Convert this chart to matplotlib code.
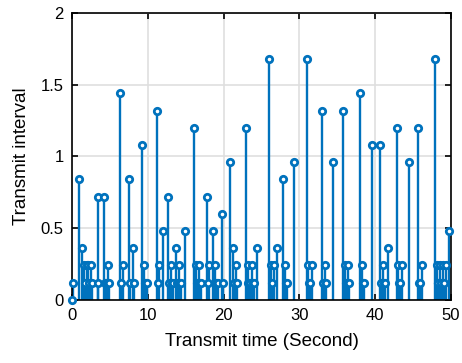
import numpy as np
import matplotlib
matplotlib.use("Agg")
import matplotlib.pyplot as plt

# transmit times (s) and the interval since the previous transmission (s)
transmit_time = [
    0.0, 0.12, 0.96, 1.32, 1.56, 1.68, 1.92, 2.16, 2.28, 2.52, 2.64, 3.36, 3.48, 4.2,
    4.32, 4.44, 4.68, 4.8, 4.92, 6.36, 6.48, 6.72, 7.56, 7.68, 8.04, 8.16, 9.24, 9.48,
    9.6, 9.72, 9.84, 11.16, 11.28, 11.52, 12.0, 12.72, 12.84, 13.08, 13.2, 13.32, 13.68,
    13.8, 13.92, 14.16, 14.28, 14.4, 14.88, 16.08, 16.32, 16.44, 16.56, 16.8, 16.92,
    17.04, 17.76, 17.88, 18.12, 18.6, 18.84, 18.96, 19.08, 19.2, 19.8, 19.92, 20.88,
    21.24, 21.36, 21.6, 21.72, 22.92, 23.16, 23.28, 23.4, 23.52, 23.76, 23.88, 24.0,
    24.36, 26.04, 26.28, 26.4, 26.64, 27.0, 27.84, 28.08, 28.2, 28.32, 29.28, 30.96,
    31.2, 31.32, 31.44, 31.68, 33.0, 33.12, 33.36, 33.48, 34.44, 35.76, 36.0, 36.12,
    36.36, 36.48, 36.6, 38.04, 38.28, 38.4, 38.52, 39.6, 40.68, 40.8, 41.04, 41.16,
    41.28, 41.64, 42.84, 43.08, 43.2, 43.32, 43.56, 44.52, 45.72, 45.84, 45.96, 46.2,
    47.88, 48.12, 48.24, 48.36, 48.6, 48.72, 48.96, 49.08, 49.32, 49.8,
]
transmit_interval = [
    0.0, 0.12, 0.84, 0.36, 0.24, 0.12, 0.24, 0.24, 0.12, 0.24, 0.12, 0.72, 0.12, 0.72,
    0.12, 0.12, 0.24, 0.12, 0.12, 1.44, 0.12, 0.24, 0.84, 0.12, 0.36, 0.12, 1.08, 0.24,
    0.12, 0.12, 0.12, 1.32, 0.12, 0.24, 0.48, 0.72, 0.12, 0.24, 0.12, 0.12, 0.36,
    0.12, 0.12, 0.24, 0.12, 0.12, 0.48, 1.2, 0.24, 0.12, 0.12, 0.24, 0.12,
    0.12, 0.72, 0.12, 0.24, 0.48, 0.24, 0.12, 0.12, 0.12, 0.6, 0.12, 0.96,
    0.36, 0.12, 0.24, 0.12, 1.2, 0.24, 0.12, 0.12, 0.12, 0.24, 0.12, 0.12,
    0.36, 1.68, 0.24, 0.12, 0.24, 0.36, 0.84, 0.24, 0.12, 0.12, 0.96, 1.68,
    0.24, 0.12, 0.12, 0.24, 1.32, 0.12, 0.24, 0.12, 0.96, 1.32, 0.24, 0.12,
    0.24, 0.12, 0.12, 1.44, 0.24, 0.12, 0.12, 1.08, 1.08, 0.12, 0.24, 0.12,
    0.12, 0.36, 1.2, 0.24, 0.12, 0.12, 0.24, 0.96, 1.2, 0.12, 0.12, 0.24,
    1.68, 0.24, 0.12, 0.12, 0.24, 0.12, 0.24, 0.12, 0.24, 0.48,
]

x_ticks = [0, 10, 20, 30, 40, 50]
y_ticks = [0, 0.5, 1, 1.5, 2]
y_tick_labels = ["0", "0.5", "1", "1.5", "2"]

BLUE = "#0072BD"
plt.rcParams["font.family"] = ["Liberation Sans", "DejaVu Sans"]

fig = plt.figure(figsize=(4.62, 3.63), dpi=100)
ax = fig.add_axes([0.156, 0.174, 0.820, 0.790])

markerline, stemlines, baseline = ax.stem(transmit_time, transmit_interval, basefmt=" ")
plt.setp(stemlines, color=BLUE, linewidth=1.7)
plt.setp(markerline, color=BLUE, marker="o", markersize=4.6,
         markerfacecolor="white", markeredgewidth=2.0, clip_on=False, zorder=3)

ax.set_xlim(0, 50)
ax.set_ylim(0, 2)
ax.set_xticks(x_ticks)
ax.set_yticks(y_ticks)
ax.set_yticklabels(y_tick_labels)
ax.grid(True, color="#dfdfdf", linewidth=1.2)
ax.set_axisbelow(True)
ax.tick_params(direction="in", top=True, right=True, length=4, width=1.2,
               labelsize=12, colors="black", pad=6)
for sp in ax.spines.values():
    sp.set_linewidth(1.2)
    sp.set_color("black")

ax.set_xlabel("Transmit time (Second)", fontsize=13.5, labelpad=7)
ax.set_ylabel("Transmit interval", fontsize=13.5, labelpad=8)

fig.savefig("out.png", dpi=100)
